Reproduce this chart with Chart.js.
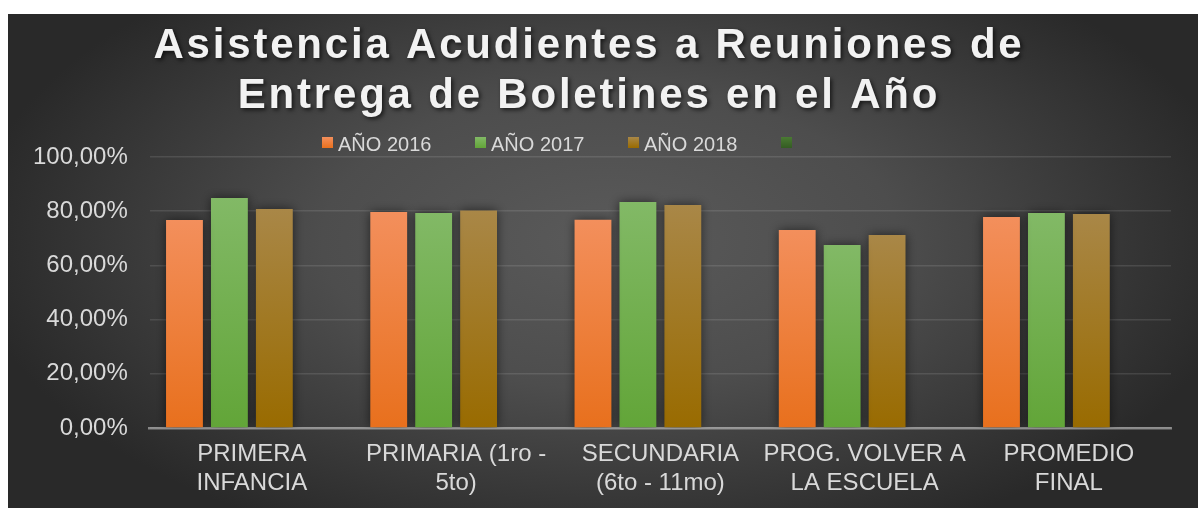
<!DOCTYPE html>
<html>
<head>
<meta charset="utf-8">
<script src="https://cdn.jsdelivr.net/npm/chart.js@4.4.0/dist/chart.umd.min.js"></script>
<style>
  body { margin: 0; background: #ffffff; }
  #wrap { width: 1198px; height: 508px; position: relative; }
</style>
</head>
<body>
<div id="wrap"><canvas id="asistencia"></canvas></div>
<script>
var categorias = [
    ["PRIMERA", "INFANCIA"],
    ["PRIMARIA (1ro -", "5to)"],
    ["SECUNDARIA", "(6to - 11mo)"],
    ["PROG. VOLVER A", "LA ESCUELA"],
    ["PROMEDIO", "FINAL"]
];
var series = ["AÑO 2016", "AÑO 2017", "AÑO 2018", ""];
var anio2016 = [0.7675, 0.797, 0.768, 0.731, 0.779];
var anio2017 = [0.849, 0.793, 0.834, 0.675, 0.793];
var anio2018 = [0.808, 0.803, 0.823, 0.712, 0.790];
var serieVacia = [null, null, null, null, null];
var yTicks = [0, 0.2, 0.4, 0.6, 0.8, 1];
var tituloLineas = ["Asistencia Acudientes a Reuniones de", "Entrega de Boletines en el Año"];

// colores arriba / abajo de cada serie
var colores = [
    ["#f38f5c", "#e8701d"],
    ["#82b966", "#62a538"],
    ["#a98747", "#996b00"],
    ["#4a7a33", "#345c22"]
];

function relleno(i) {
    return function(ctx) {
        var chart = ctx.chart;
        if (!chart.chartArea || ctx.raw == null) return colores[i][1];
        var y = chart.scales.y;
        var top = y.getPixelForValue(ctx.raw);
        var bottom = y.getPixelForValue(0);
        var g = chart.ctx.createLinearGradient(0, top, 0, bottom);
        g.addColorStop(0, colores[i][0]);
        g.addColorStop(1, colores[i][1]);
        return g;
    };
}

var fondo = {
    id: 'fondo',
    beforeDraw: function(chart) {
        var c = chart.ctx;
        c.save();
        c.fillStyle = '#ffffff';
        c.fillRect(0, 0, chart.width, chart.height);
        var cx = 610, cy = 240, rx = 640, ry = 330;
        c.translate(cx, cy);
        c.scale(1, ry / rx);
        var g = c.createRadialGradient(0, 0, 0, 0, 0, rx);
        g.addColorStop(0, '#5a5a5a');
        g.addColorStop(0.45, '#4d4d4d');
        g.addColorStop(1, '#292929');
        c.fillStyle = g;
        c.fillRect(8 - cx, (14 - cy) * rx / ry, 1190, 494 * rx / ry);
        c.restore();
    }
};

var sombras = {
    id: 'sombras',
    beforeDatasetsDraw: function(chart) {
        var c = chart.ctx;
        c.save();
        c.shadowColor = 'rgba(0,0,0,0.55)';
        c.shadowBlur = 10;
    },
    afterDatasetsDraw: function(chart) {
        chart.ctx.restore();
    }
};

var encabezado = {
    id: 'encabezado',
    afterDraw: function(chart) {
        var c = chart.ctx;
        c.save();
        // titulo
        c.font = 'bold 42px "Liberation Sans", Arial, sans-serif';
        c.letterSpacing = '2.8px';
        c.textAlign = 'center';
        c.textBaseline = 'alphabetic';
        c.fillStyle = '#f2f2f2';
        c.shadowColor = 'rgba(0,0,0,0.65)';
        c.shadowBlur = 4;
        c.shadowOffsetX = 2;
        c.shadowOffsetY = 2;
        c.fillText(tituloLineas[0], 589, 58);
        c.fillText(tituloLineas[1], 589, 108);
        c.restore();

        // leyenda
        c.save();
        c.font = '20px "Liberation Sans", Arial, sans-serif';
        c.textAlign = 'left';
        c.textBaseline = 'alphabetic';
        chart.data.datasets.forEach(function(ds, i) {
            var x = 322 + i * 153;
            var g = c.createLinearGradient(0, 137, 0, 148);
            g.addColorStop(0, colores[i][0]);
            g.addColorStop(1, colores[i][1]);
            c.fillStyle = g;
            c.fillRect(x, 137, 11, 11);
            c.fillStyle = '#d9d9d9';
            c.fillText(ds.label, x + 16, 150.5);
        });
        c.restore();
    }
};

var datos = [anio2016, anio2017, anio2018, serieVacia];

new Chart(document.getElementById('asistencia'), {
    type: 'bar',
    data: {
        labels: categorias,
        datasets: datos.map(function(d, i) {
            return {
                label: series[i],
                data: d,
                backgroundColor: relleno(i),
                borderWidth: 0,
                categoryPercentage: 0.88,
                barPercentage: 0.82
            };
        })
    },
    plugins: [fondo, sombras, encabezado],
    options: {
        responsive: true,
        maintainAspectRatio: false,
        animation: false,
        layout: {
            padding: { left: 11, right: 27, top: 157, bottom: 0 }
        },
        plugins: {
            legend: { display: false },
            title: { display: false },
            tooltip: { enabled: false }
        },
        scales: {
            x: {
                z: 1,
                afterFit: function(axis) { axis.height = 80; },
                grid: { display: false, drawTicks: false },
                border: { display: true, color: 'rgba(210,210,210,0.55)', width: 2.5 },
                ticks: {
                    color: '#d9d9d9',
                    padding: 12,
                    autoSkip: false,
                    maxRotation: 0,
                    font: { family: '"Liberation Sans", Arial, sans-serif', size: 24 }
                }
            },
            y: {
                min: 0,
                max: 1,
                afterBuildTicks: function(axis) {
                    axis.ticks = yTicks.map(function(v) { return { value: v }; });
                },
                grid: { color: 'rgba(255,255,255,0.11)', lineWidth: 1.5, drawTicks: false },
                border: { display: false },
                ticks: {
                    color: '#d9d9d9',
                    padding: 22,
                    font: { family: '"Liberation Sans", Arial, sans-serif', size: 24 },
                    callback: function(v) {
                        return (v * 100).toFixed(2).replace('.', ',') + '%';
                    }
                }
            }
        }
    }
});
</script>
</body>
</html>
